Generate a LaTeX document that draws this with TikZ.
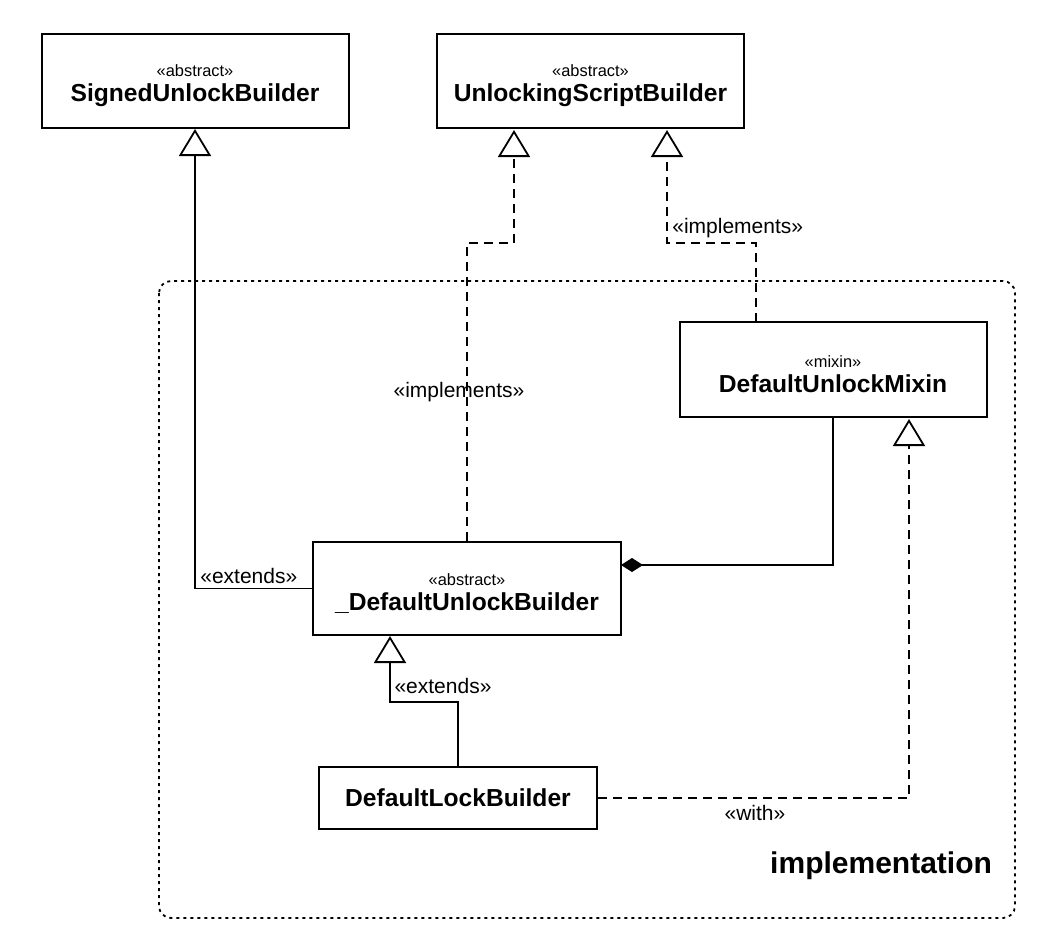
\documentclass[tikz,border=0pt]{standalone}
\usepackage{fontspec}
\setmainfont{Liberation Sans}
\usetikzlibrary{arrows.meta,positioning}

\newcommand{\ster}[1]{\rule{0pt}{10.5pt}{\fontsize{8.2}{9}\selectfont #1}}
\newcommand{\clsname}[1]{{\bfseries #1}}

\tikzset{
  classbox/.style={draw, line width=1pt, align=center, inner sep=0pt,
    minimum width=153.5pt, minimum height=47pt,
    font=\fontsize{12.3}{12.5}\selectfont},
  conn/.style={line width=0.9pt},
  dashline/.style={dash pattern=on 4.5pt off 3pt},
  inherit/.style={-{Triangle[open,length=13.5pt,width=16pt,line width=0.9pt]}},
  compose/.style={{Diamond[length=11pt,width=7pt]}-},
  lbl/.style={font=\fontsize{10.5}{12}\selectfont, inner sep=1pt}
}

\begin{document}
\begin{tikzpicture}[x=0.5pt,y=-0.5pt]

\useasboundingbox (0,0) rectangle (1062,944);

% Package
\draw[line width=0.9pt, dash pattern=on 1.5pt off 2pt, rounded corners=6pt]
(159,281) rectangle (1015,918);

\node[anchor=base east, font=\fontsize{15}{16}\selectfont\bfseries] (pkg) at (999,873) {implementation};

% Classes
\node[classbox] (sub) at (195,81) {\ster{«abstract»}\\\clsname{SignedUnlockBuilder}};
\node[classbox] (usb) at (590.5,81) {\ster{«abstract»}\\\clsname{UnlockingScriptBuilder}};
\node[classbox, minimum height=47.5pt] (mixin) at (833,369.5) {\ster{«mixin»}\\\clsname{DefaultUnlockMixin}};
\node[classbox, minimum width=154pt, minimum height=46.5pt] (dub) at (467,588.5) {\ster{«abstract»}\\\clsname{\_DefaultUnlockBuilder}};
\node[classbox, minimum width=139pt, minimum height=31pt] (dlb) at (458,798) {\clsname{DefaultLockBuilder}};

% Anchors
\coordinate (usbL) at (514,130);
\coordinate (usbR) at (667,130);
\coordinate (mixL) at (756,322);
\coordinate (mixR) at (909,419);
\coordinate (dubS) at (390,636);
\coordinate (dubE) at (621,565);

% Extends
\draw[conn,inherit] (dub.west) -| (sub.south)
  node[lbl, pos=0.27, above=1pt] {«extends»};

\draw[conn,inherit] (dlb.north) -- (458,702) -| (dubS);
\node[lbl] (ext2) at (443,686) {«extends»};

% Implements
\draw[conn,dashline,inherit] (dub.north) -- (467,243) -| (usbL);
\node[lbl] (imp1) at (459,392) {«implements»};

\draw[conn,dashline,inherit] (mixL) -- (756,243) -| (usbR);
\node[lbl, anchor=west] (imp2) at (670,228) {«implements»};

% Composition
\draw[conn,compose] (dubE) -| (mixin.south);

% With
\draw[conn,dashline,inherit] (dlb.east) -| (mixR);
\node[lbl] (with) at (755,813) {«with»};

\end{tikzpicture}
\end{document}
